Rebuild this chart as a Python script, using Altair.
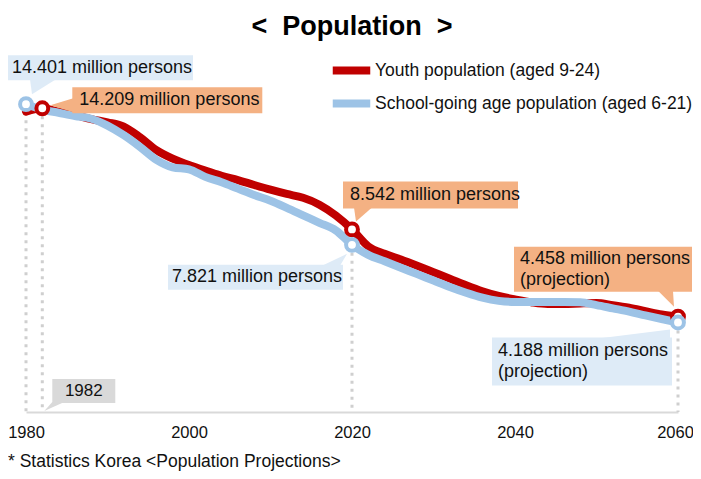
import altair as alt
import pandas as pd

# ---------------- data ----------------
years = [1980, 1982, 1984, 1986, 1988, 1990, 1992, 1994, 1996, 1998,
         2000, 2002, 2004, 2006, 2008, 2010, 2012, 2014, 2016, 2018,
         2020, 2022, 2024, 2026, 2028, 2030, 2032, 2034, 2036, 2038,
         2040, 2042, 2044, 2046, 2048, 2050, 2052, 2054, 2056, 2058, 2060]

youth = [14.05, 14.209, 14.05, 13.9, 13.7, 13.55, 13.35, 12.85, 12.25, 11.85,
         11.55, 11.3, 11.05, 10.85, 10.62, 10.4, 10.2, 10.02, 9.7, 9.2,
         8.542, 7.75, 7.4, 7.13, 6.84, 6.54, 6.24, 5.93, 5.65, 5.43,
         5.27, 5.13, 5.05, 5.05, 5.08, 5.1, 5.0, 4.88, 4.72, 4.56, 4.458]

school = [14.401, 14.15, 14.0, 13.85, 13.72, 13.4, 12.95, 12.4, 11.8, 11.45,
          11.35, 11.0, 10.75, 10.45, 10.15, 9.88, 9.55, 9.2, 8.85, 8.5,
          7.821, 7.35, 7.05, 6.75, 6.45, 6.15, 5.85, 5.58, 5.35, 5.2,
          5.15, 5.15, 5.15, 5.15, 5.13, 5.0, 4.85, 4.7, 4.52, 4.35, 4.188]

SERIES = ["Youth population (aged 9-24)", "School-going age population (aged 6-21)"]
youth_marked_years = [1982, 2020, 2060]
school_marked_years = [1980, 2020, 2060]
dotted_years = [(SERIES[1], 1980), (SERIES[0], 1982), (SERIES[1], 2020), (SERIES[1], 2060)]

x_ticks = [1980, 2000, 2020, 2040, 2060]
TITLE = "<  Population  >"
SOURCE = "* Statistics Korea <Population Projections>"

# callout texts: (kind, anchor series, anchor year, lines)
callout_texts = [
    ("school", SERIES[1], 1980, ["14.401 million persons"]),
    ("youth", SERIES[0], 1982, ["14.209 million persons"]),
    ("youth", SERIES[0], 2020, ["8.542 million persons"]),
    ("school", SERIES[1], 2020, ["7.821 million persons"]),
    ("youth", SERIES[0], 2060, ["4.458 million persons", "(projection)"]),
    ("school", SERIES[1], 2060, ["4.188 million persons", "(projection)"]),
    ("year", None, 1982, ["1982"]),
]

# ---------------- layout / style ----------------
W, H = 652, 342
X_DOM, Y_DOM = [1980, 2060], [0, 16]
PX_YR = W / (X_DOM[1] - X_DOM[0])
PX_VAL = H / (Y_DOM[1] - Y_DOM[0])
RED, BLUE = "#C00000", "#9DC3E6"
FILL_DOMAIN = ["youth", "school", "year"]
FILL_RANGE = ["#F4B183", "#DEEBF7", "#D9D9D9"]
FONT = "Liberation Sans"

# box offsets in px relative to anchor: (dx0, dx1, dy0, dy1), text (dx, dy first line, align)
box_layout = [
    ((-18, 167, -49, -24), (-14, -36.5, "left")),
    ((30, 220, -21, 5), (37, -8, "left")),
    ((-9, 166, -48, -21), (-2, -34.5, "left")),
    ((-184, -9, 20, 45), (-180, 32.5, "left")),
    ((-164, 14, -70, -25), (-158, -58, "left")),
    ((-186, -6, 15, 63), (-180, 29, "left")),
    ((10, 73, -33, -9), (41.5, -21, "center")),
]
LINE_GAP = 21
# pointers (horizontal: base y, base x0, x1, tip y, tip x) ; (vertical: base x, y0, y1, tip x, tip y)
pointer_layout = [
    ("h", (-25, 4, 30, -10, 6)),
    ("v", (31, -10, 4, 8, -3)),
    ("h", (-22, 2, 20, -8, 4)),
    ("h", (21, -30, -12, 9, -5)),
    ("h", (-26, -20, -5, -10, -4)),
    ("h", (16, -80, -8, 7, -8)),
    ("h", (-10, 10, 22, -1, 2)),
]

# ---------------- build tables ----------------
n = len(years)
lines_df = pd.DataFrame({
    "year": years * 2,
    "value": youth + school,
    "series": [SERIES[0]] * n + [SERIES[1]] * n,
})
lookup = {(s, y): v for s, y, v in zip(lines_df.series, lines_df.year, lines_df.value)}

pts_df = pd.DataFrame(
    [{"series": SERIES[0], "year": y, "value": lookup[(SERIES[0], y)]} for y in youth_marked_years] +
    [{"series": SERIES[1], "year": y, "value": lookup[(SERIES[1], y)]} for y in school_marked_years]
)
dots_df = pd.DataFrame([{"year": y, "value": lookup[(s, y)], "base": 0} for s, y in dotted_years])


def to_year(ay, dx):
    return ay + dx / PX_YR


def to_val(av, dy):
    return av - dy / PX_VAL


boxes, texts, ptr_h, ptr_v = [], [], [], []
for i, ((kind, ser, ay, lines), (bx, tx), (pk, pp)) in enumerate(zip(callout_texts, box_layout, pointer_layout)):
    av = lookup[(ser, ay)] if ser else 0
    boxes.append({"kind": kind, "x0": to_year(ay, bx[0]), "x1": to_year(ay, bx[1]),
                  "y0": to_val(av, bx[2]), "y1": to_val(av, bx[3])})
    for j, t in enumerate(lines):
        texts.append({"text": t, "x": to_year(ay, tx[0]), "y": to_val(av, tx[1] + j * LINE_GAP), "align": tx[2]})
    if pk == "h":
        by, bx0, bx1, ty, txp = pp
        ptr_h.append({"id": i, "kind": kind, "y": to_val(av, by), "x": to_year(ay, bx0), "x2": to_year(ay, bx1)})
        ptr_h.append({"id": i, "kind": kind, "y": to_val(av, ty), "x": to_year(ay, txp), "x2": to_year(ay, txp)})
    else:
        bxp, by0, by1, txp, typ = pp
        ptr_v.append({"id": i, "kind": kind, "x": to_year(ay, bxp), "y": to_val(av, by0), "y2": to_val(av, by1)})
        ptr_v.append({"id": i, "kind": kind, "x": to_year(ay, txp), "y": to_val(av, typ), "y2": to_val(av, typ)})

boxes_df = pd.DataFrame(boxes)
texts_df = pd.DataFrame(texts)
ptr_h_df = pd.DataFrame(ptr_h)
ptr_v_df = pd.DataFrame(ptr_v)

# ---------------- chart ----------------
xs = alt.Scale(domain=X_DOM, nice=False, zero=False)
ys = alt.Scale(domain=Y_DOM, nice=False, zero=False)
color_scale = alt.Scale(domain=SERIES, range=[RED, BLUE])
fill_scale = alt.Scale(domain=FILL_DOMAIN, range=FILL_RANGE)

x_axis = alt.Axis(values=x_ticks, format="d", title=None, grid=False, ticks=False,
                  domainColor="#D9D9D9", domainWidth=2, labelFontSize=16.5, labelFont=FONT,
                  labelColor="#111111", labelPadding=12, labelFlush=False,
                  labelOffset={"condition": {"test": "datum.value == 2060", "value": -3}, "value": 0})

dotted = alt.Chart(dots_df).mark_rule(color="#CFCFCF", strokeWidth=3, strokeDash=[3, 5]).encode(
    x=alt.X("year:Q", scale=xs, axis=x_axis),
    y=alt.Y("value:Q", scale=ys, axis=None),
    y2="base:Q",
)

legend = alt.Legend(orient="none", legendX=309, legendY=-16, title=None,
                    symbolType="M-1.5,0H1.5", symbolStrokeWidth=8, symbolSize=625,
                    labelFontSize=17.5, labelFont=FONT, labelColor="#111111", labelLimit=500,
                    labelOffset=7, padding=0, rowPadding=0)

line_red = alt.Chart(lines_df).transform_filter(alt.datum.series == SERIES[0]).mark_line(
    strokeWidth=8, interpolate="monotone", strokeCap="round").encode(
    x=alt.X("year:Q", scale=xs, title=None),
    y=alt.Y("value:Q", scale=ys, axis=None),
    color=alt.Color("series:N", scale=color_scale, legend=legend),
)
line_blue = alt.Chart(lines_df).transform_filter(alt.datum.series == SERIES[1]).mark_line(
    strokeWidth=8, interpolate="monotone", strokeCap="round").encode(
    x=alt.X("year:Q", scale=xs, title=None),
    y=alt.Y("value:Q", scale=ys, axis=None),
    color=alt.Color("series:N", scale=color_scale, legend=legend),
)

box_layer = alt.Chart(boxes_df).mark_rect().encode(
    x=alt.X("x0:Q", scale=xs, title=None), x2="x1:Q",
    y=alt.Y("y0:Q", scale=ys, axis=None), y2="y1:Q",
    fill=alt.Fill("kind:N", scale=fill_scale, legend=None),
)
ptr_h_layer = alt.Chart(ptr_h_df).mark_area(orient="horizontal").encode(
    y=alt.Y("y:Q", scale=ys, axis=None),
    x=alt.X("x:Q", scale=xs, title=None), x2="x2:Q",
    fill=alt.Fill("kind:N", scale=fill_scale, legend=None),
    detail="id:N",
)
ptr_v_layer = alt.Chart(ptr_v_df).mark_area(orient="vertical").encode(
    x=alt.X("x:Q", scale=xs, title=None),
    y=alt.Y("y:Q", scale=ys, axis=None), y2="y2:Q",
    fill=alt.Fill("kind:N", scale=fill_scale, legend=None),
    detail="id:N",
)
text_left = alt.Chart(texts_df).transform_filter(alt.datum.align == "left").mark_text(
    align="left", baseline="middle", fontSize=18, font=FONT, color="#111111").encode(
    x=alt.X("x:Q", scale=xs, title=None), y=alt.Y("y:Q", scale=ys, axis=None), text="text:N")
text_center = alt.Chart(texts_df).transform_filter(alt.datum.align == "center").mark_text(
    align="center", baseline="middle", fontSize=17, font=FONT, color="#111111").encode(
    x=alt.X("x:Q", scale=xs, title=None), y=alt.Y("y:Q", scale=ys, axis=None), text="text:N")

pts_red = alt.Chart(pts_df).transform_filter(alt.datum.series == SERIES[0]).mark_point(
    shape="circle", filled=True, fill="white", size=140, strokeWidth=4, opacity=1).encode(
    x=alt.X("year:Q", scale=xs, title=None), y=alt.Y("value:Q", scale=ys, axis=None),
    stroke=alt.Stroke("series:N", scale=color_scale, legend=None))
pts_blue = alt.Chart(pts_df).transform_filter(alt.datum.series == SERIES[1]).mark_point(
    shape="circle", filled=True, fill="white", size=140, strokeWidth=4, opacity=1).encode(
    x=alt.X("year:Q", scale=xs, title=None), y=alt.Y("value:Q", scale=ys, axis=None),
    stroke=alt.Stroke("series:N", scale=color_scale, legend=None))

source = alt.Chart(pd.DataFrame({"t": [SOURCE]})).mark_text(
    align="left", baseline="middle", fontSize=17.5, font=FONT, color="#111111").encode(
    text="t:N", x=alt.value(-18), y=alt.value(392))

chart = alt.layer(
    dotted, line_red, line_blue, box_layer, ptr_h_layer, ptr_v_layer,
    text_left, text_center, pts_red, pts_blue, source,
).properties(
    width=W, height=H,
    title=alt.TitleParams(TITLE.replace("  ", " \u00a0"), fontSize=27, font=FONT, fontWeight="bold",
                          anchor="middle", frame="group", offset=13, color="#000000"),
    autosize=alt.AutoSizeParams(type="none"),
    padding={"left": 18, "top": 62, "right": 15, "bottom": 59},
).configure_view(stroke=None)

chart.save("out.html", embed_options={"renderer": "svg", "actions": False})
